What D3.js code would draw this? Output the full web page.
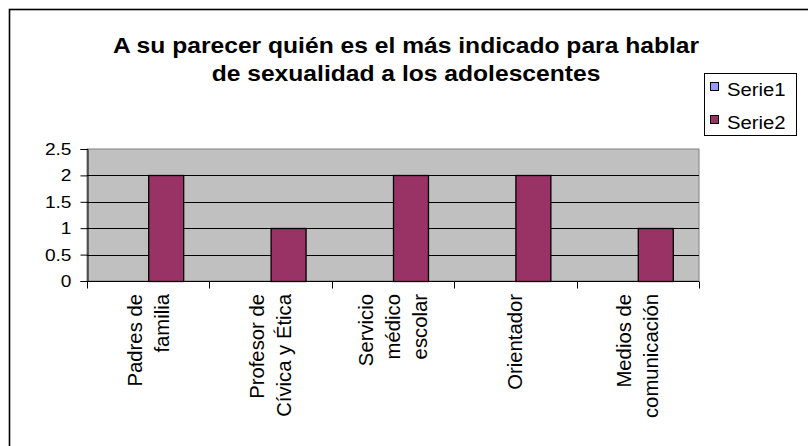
<!DOCTYPE html>
<html>
<head>
<meta charset="utf-8">
<script src="https://cdn.jsdelivr.net/npm/d3@7/dist/d3.min.js"></script>
<style>
  html, body { margin: 0; padding: 0; background: #fff; }
  svg { display: block; }
  text { font-family: "Liberation Sans", Arial, sans-serif; fill: #000; }
</style>
</head>
<body>
<svg id="chart" width="808" height="446"></svg>
<script>
// ---- data ----
const titleLines = ["A su parecer quién es el más indicado para hablar", "de sexualidad a los adolescentes"];
const categories = ["Padres de familia", "Profesor de Cívica y Ética", "Servicio médico escolar", "Orientador", "Medios de comunicación"];
const categoryLines = [["Padres de", "familia"], ["Profesor de", "Cívica y Ética"], ["Servicio", "médico", "escolar"], ["Orientador"], ["Medios de", "comunicación"]];
const seriesNames = ["Serie1", "Serie2"];
const serie1 = [0, 0, 0, 0, 0];
const serie2 = [2, 1, 2, 2, 1];
const yTicks = [0, 0.5, 1, 1.5, 2, 2.5];
const seriesColors = ["#9999FF", "#993366"];

// ---- layout ----
const svg = d3.select("#chart");
const SX = 1.16; // horizontal text stretch seen in the reference
const plot = { left: 87, right: 699, top: 149, bottom: 281 };

// outer frame (right/bottom edges fall outside the picture)
svg.append("rect").attr("x", 9.5).attr("y", 9.5).attr("width", 820).attr("height", 460)
  .attr("fill", "#fff").attr("stroke", "#000").attr("stroke-width", 1.6);

// scales
const x = d3.scaleBand().domain(categories).range([plot.left, plot.right]).paddingInner(0).paddingOuter(0);
const xs = d3.scaleBand().domain(seriesNames).range([0, x.bandwidth()]).paddingInner(0).paddingOuter(0.75);
const y = d3.scaleLinear().domain([0, 2.5]).range([plot.bottom, plot.top]);

// plot area
svg.append("rect").attr("x", plot.left).attr("y", plot.top)
  .attr("width", plot.right - plot.left).attr("height", plot.bottom - plot.top)
  .attr("fill", "#C0C0C0").attr("stroke", "#808080").attr("stroke-width", 1);

// gridlines
svg.append("g").selectAll("line").data(yTicks.filter(t => t > 0 && t < 2.5)).join("line")
  .attr("x1", plot.left).attr("x2", plot.right)
  .attr("y1", d => Math.round(y(d)) + 0.5).attr("y2", d => Math.round(y(d)) + 0.5)
  .attr("stroke", "#000").attr("stroke-width", 1);

// bars
const rows = categories.map((c, i) => ({ cat: c, vals: [serie1[i], serie2[i]] }));
const groups = svg.append("g").selectAll("g").data(rows).join("g")
  .attr("transform", d => `translate(${x(d.cat)},0)`);
groups.selectAll("rect").data(d => d.vals.map((v, j) => ({ v, s: seriesNames[j], c: seriesColors[j] })))
  .join("rect")
  .filter(d => d.v > 0)
  .attr("x", d => xs(d.s) + 0.5)
  .attr("y", d => Math.round(y(d.v)) + 0.5)
  .attr("width", xs.bandwidth())
  .attr("height", d => Math.round(y(0)) - Math.round(y(d.v)))
  .attr("fill", d => d.c)
  .attr("stroke", "#000").attr("stroke-width", 1.3);

// y axis
const yAxis = svg.append("g").attr("transform", `translate(${plot.left + 0.5},0)`)
  .call(d3.axisLeft(y).tickValues(yTicks).tickSize(7).tickPadding(0).tickFormat(d => String(d)));
yAxis.select(".domain").attr("stroke", "#000");
yAxis.selectAll(".tick line").attr("stroke", "#000");
yAxis.selectAll(".tick text").remove();
yAxis.selectAll(".tick").append("g")
  .attr("transform", `translate(-16,0) scale(${SX},1)`)
  .append("text")
  .attr("text-anchor", "end").attr("dominant-baseline", "central")
  .attr("font-size", "16.5px")
  .text(d => String(d));

// x axis
const xAxis = svg.append("g").attr("transform", `translate(0,${plot.bottom + 0.5})`);
xAxis.append("line").attr("x1", plot.left).attr("x2", plot.right).attr("stroke", "#000");
const bounds = categories.map(c => x(c)).concat([x(categories[categories.length - 1]) + x.bandwidth()]);
xAxis.selectAll("line.tk").data(bounds).join("line").attr("class", "tk")
  .attr("x1", d => Math.round(d) + 0.5).attr("x2", d => Math.round(d) + 0.5)
  .attr("y1", 0).attr("y2", 7).attr("stroke", "#000");

// category labels (rotated)
const lineGap = 27;
svg.append("g").selectAll("g").data(categories).join("g")
  .each(function (c, i) {
    const lines = categoryLines[i];
    const cx = x(c) + x.bandwidth() / 2;
    d3.select(this).selectAll("text").data(lines).join("text")
      .attr("transform", (l, k) => `translate(${cx + (k - (lines.length - 1) / 2) * lineGap},294) rotate(-90)`)
      .attr("text-anchor", "end").attr("dominant-baseline", "central")
      .attr("font-size", "20.3px")
      .text(l => l);
  });

// title
svg.append("g").selectAll("g").data(titleLines).join("g")
  .attr("transform", (t, i) => `translate(406,${53 + i * 28}) scale(1.12,1)`)
  .append("text").attr("text-anchor", "middle")
  .attr("font-size", "22px").attr("font-weight", "bold")
  .text(t => t);

// legend
const lg = svg.append("g");
lg.append("rect").attr("x", 704.5).attr("y", 73.5).attr("width", 92).attr("height", 62)
  .attr("fill", "#fff").attr("stroke", "#000").attr("stroke-width", 1);
const items = lg.selectAll("g").data(seriesNames).join("g")
  .attr("transform", (s, i) => `translate(0,${i * 33})`);
items.append("rect").attr("x", 710.5).attr("y", 82.5).attr("width", 8).attr("height", 8)
  .attr("fill", (s, i) => seriesColors[i]).attr("stroke", "#000").attr("stroke-width", 1);
items.append("g").attr("transform", `translate(727,96) scale(${SX},1)`)
  .append("text").attr("font-size", "17.5px").text(s => s);
</script>
</body>
</html>
